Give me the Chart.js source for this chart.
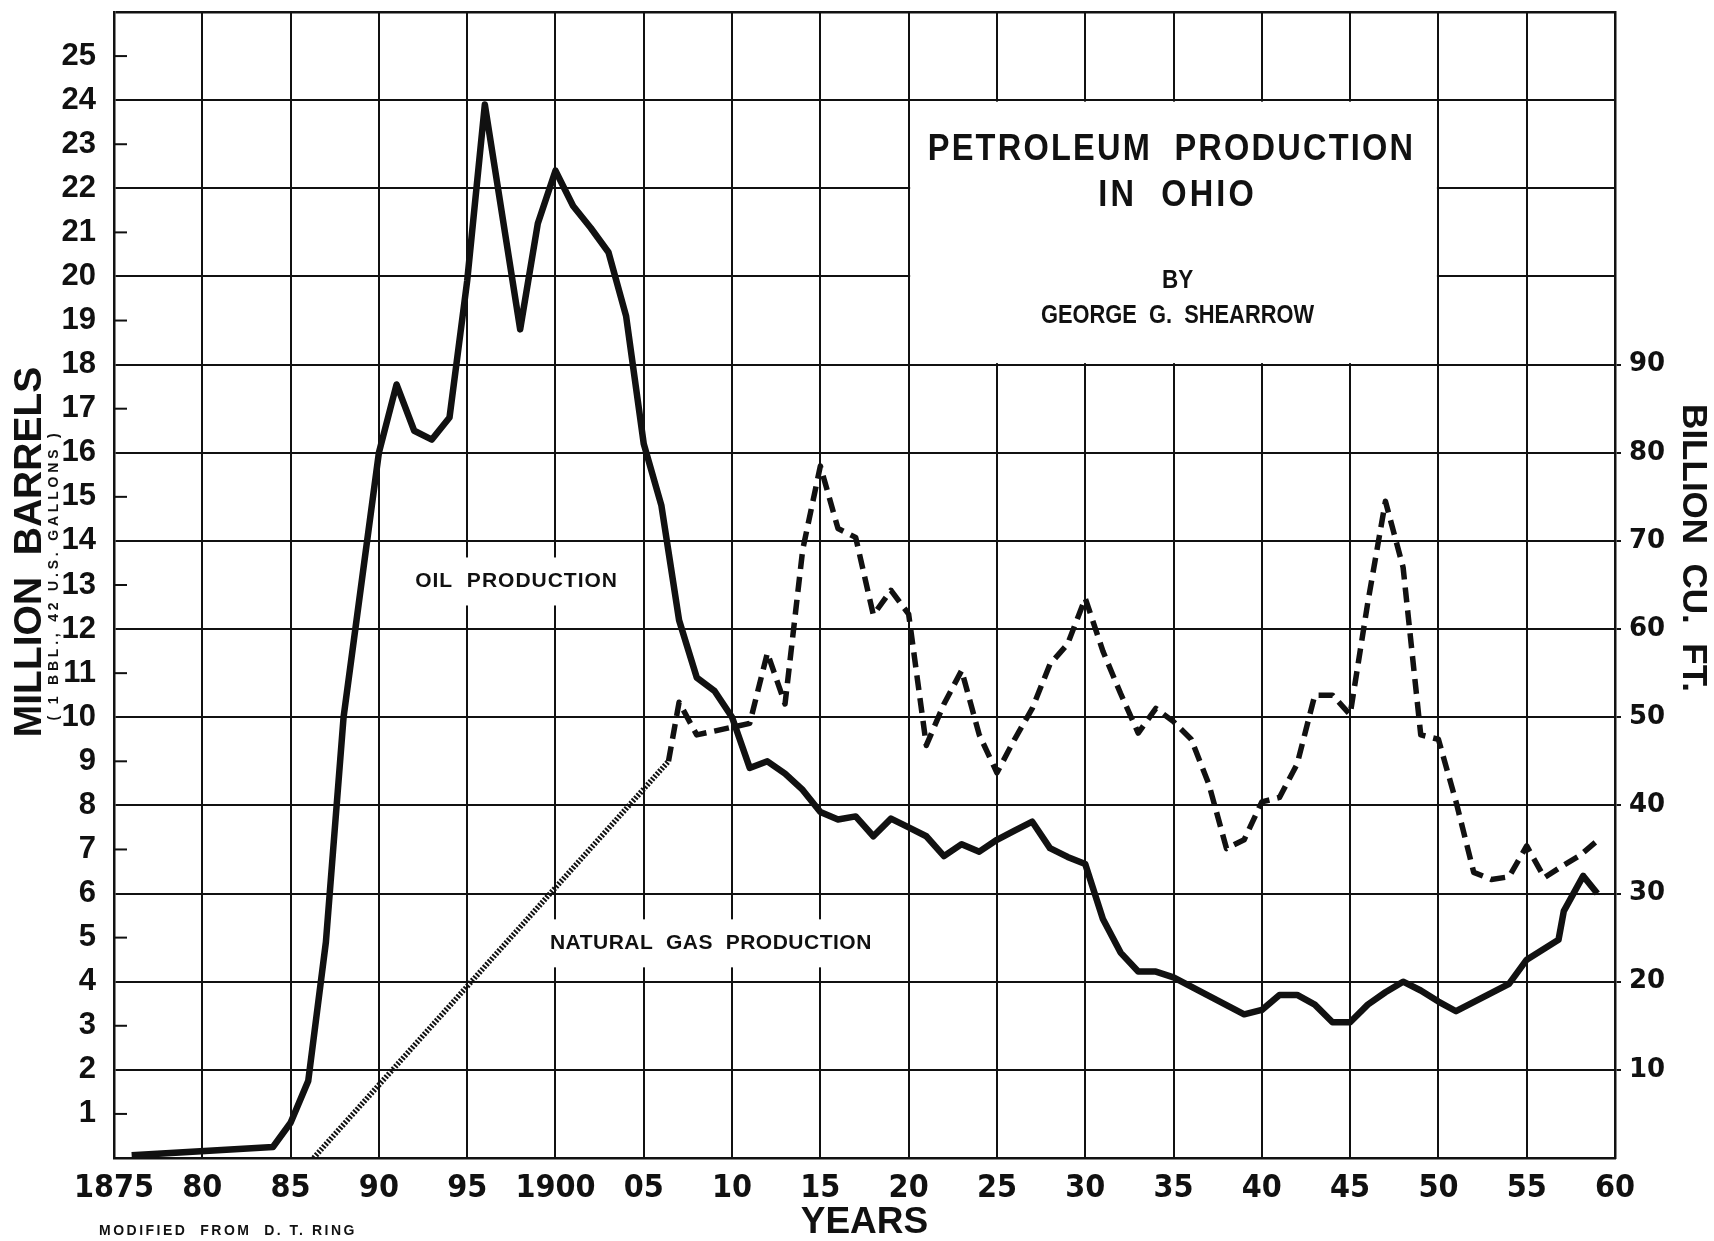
<!DOCTYPE html>
<html lang="en">
<head>
<meta charset="UTF-8">
<title>Petroleum Production in Ohio</title>
<script src="https://cdn.jsdelivr.net/npm/chart.js"></script>
<style>
  html, body { margin: 0; padding: 0; background: #fff; }
  canvas { display: block; }
</style>
</head>
<body>
<canvas id="grafico" width="1714" height="1241"></canvas>
<script>
// oil production, million barrels (left axis)
const oilYears = [1876, 1884, 1885, 1886, 1887, 1888, 1890, 1891, 1892, 1893, 1894, 1895, 1896, 1898, 1899,
  1900, 1901, 1902, 1903, 1904, 1905, 1906, 1907, 1908, 1909, 1910, 1911, 1912, 1913, 1914, 1915, 1916, 1917,
  1918, 1919, 1920, 1921, 1922, 1923, 1924, 1925, 1926, 1927, 1928, 1929, 1930, 1931, 1932, 1933, 1934, 1935,
  1939, 1940, 1941, 1942, 1943, 1944, 1945, 1946, 1947, 1948, 1949, 1950, 1951, 1954, 1955, 1956.8, 1957.1,
  1958.2, 1959]
const oilValues = [0.06, 0.25, 0.8, 1.75, 4.9, 10.0, 16.0, 17.55, 16.5, 16.3, 16.8, 19.9, 23.9, 18.8, 21.2,
  22.4, 21.6, 21.1, 20.55, 19.1, 16.2, 14.8, 12.2, 10.9, 10.6, 10.0, 8.85, 9.0, 8.72, 8.35, 7.85, 7.68, 7.75,
  7.3, 7.7, 7.5, 7.3, 6.85, 7.12, 6.95, 7.22, 7.43, 7.63, 7.03, 6.83, 6.67, 5.42, 4.66, 4.23, 4.23, 4.1,
  3.26, 3.36, 3.7, 3.7, 3.48, 3.08, 3.08, 3.48, 3.76, 4.0, 3.8, 3.55, 3.33, 3.95, 4.5, 4.95, 5.6,
  6.4, 6.0]

// natural gas production, billion cu. ft. (right axis)
const gasYears = [1906.4, 1907, 1908, 1911, 1912, 1913, 1914, 1915, 1916, 1917, 1918, 1919, 1920, 1921, 1922,
  1923, 1924, 1925, 1926, 1927, 1928, 1929, 1930, 1931, 1932, 1933, 1934, 1935, 1936, 1937, 1938, 1939, 1940,
  1941, 1942, 1943, 1944, 1945, 1946, 1947, 1948, 1949, 1950, 1951, 1952, 1953, 1954, 1955, 1956, 1957, 1958, 1959]
const gasValues = [45, 51.7, 48, 49.3, 57.3, 51.5, 69, 78.5, 71.4, 70.4, 61.6, 64.4, 61.7, 46.8, 51.5,
  55.3, 48, 43.7, 47.5, 51, 56, 58.3, 63.5, 57.5, 52.7, 48.2, 51, 49.5, 47.5, 42.4, 35.1, 36.1, 40.4,
  40.9, 44.7, 52.5, 52.5, 50.3, 63, 74.5, 67, 48, 47.5, 40.4, 32.4, 31.6, 31.9, 35.4, 31.8, 33.1, 34.3, 36.0]

// early gas estimate, drawn dotted
const gasEarlyYears = [1886.3, 1906.4]
const gasEarlyValues = [0, 45]

// tick labels
const yearLabels = ['1875', '80', '85', '90', '95', '1900', '05', '10', '15', '20', '25', '30', '35', '40', '45', '50', '55', '60']
const barrelLabels = ['1', '2', '3', '4', '5', '6', '7', '8', '9', '10', '11', '12', '13', '14', '15', '16', '17', '18', '19', '20', '21', '22', '23', '24', '25']
const cuftLabels = ['10', '20', '30', '40', '50', '60', '70', '80', '90']

const ink = '#111'
const clear = 'rgba(0,0,0,0)'

function txt(ctx, s, px, py, font, o = {}) {
  ctx.save()
  ctx.translate(px, py)
  if (o.rot) ctx.rotate(o.rot)
  if (o.sx) ctx.scale(o.sx, 1)
  ctx.font = font
  ctx.letterSpacing = (o.ls || 0) + 'px'
  ctx.textAlign = o.align || 'center'
  ctx.textBaseline = 'middle'
  ctx.fillStyle = ink
  ctx.fillText(s, 0, 0)
  ctx.restore()
}

function maskedLabel(ctx, s, px, py, font, ls) {
  ctx.save()
  ctx.font = font
  ctx.letterSpacing = ls + 'px'
  const w = ctx.measureText(s).width
  ctx.fillStyle = '#fff'
  ctx.fillRect(px - w / 2 - 12, py - 24, w + 24, 48)
  ctx.restore()
  txt(ctx, s, px, py, font, { ls })
}

// no automatic label padding: the plot frame sits where the paper has it
function fixBox(w, h) {
  return s => {
    if (w) s.width = w
    if (h) s.height = h
    s.paddingTop = 0; s.paddingBottom = 0; s.paddingLeft = 0; s.paddingRight = 0
  }
}

const notas = {
  id: 'notas',
  beforeDatasetsDraw(chart) {
    const { ctx, scales: { x, y } } = chart
    ctx.save()
    // short inward ticks at odd values
    ctx.strokeStyle = ink
    ctx.lineWidth = 2
    for (let v = 1; v <= 25; v += 2) {
      const py = y.getPixelForValue(v)
      ctx.beginPath()
      ctx.moveTo(x.left, py)
      ctx.lineTo(x.left + 13, py)
      ctx.stroke()
    }
    // title block, blanked inside the grid cell 1920-1950 x 18-24
    const bx0 = x.getPixelForValue(1920), bx1 = x.getPixelForValue(1950)
    const by0 = y.getPixelForValue(24), by1 = y.getPixelForValue(18)
    ctx.fillStyle = '#fff'
    ctx.fillRect(bx0 + 1.5, by0 + 1.5, bx1 - bx0 - 3, by1 - by0 - 3)
    ctx.restore()

    const cx = (bx0 + bx1) / 2
    txt(ctx, 'PETROLEUM  PRODUCTION', cx - 2, by0 + 50, 'bold 37px "Liberation Sans"', { sx: 0.88, ls: 2.5 })
    txt(ctx, 'IN  OHIO', cx + 4, by0 + 96, 'bold 37px "Liberation Sans"', { sx: 0.88, ls: 3.5 })
    txt(ctx, 'BY', cx + 4, by0 + 181, 'bold 25px "Liberation Sans"', { sx: 0.9 })
    txt(ctx, 'GEORGE  G.  SHEARROW', cx + 4, by0 + 216, 'bold 26px "Liberation Sans"', { sx: 0.84 })

    maskedLabel(ctx, 'OIL  PRODUCTION', x.getPixelForValue(1897.8), y.getPixelForValue(13.08), 'bold 21px "Liberation Sans"', 1)
    maskedLabel(ctx, 'NATURAL  GAS  PRODUCTION', x.getPixelForValue(1908.8), y.getPixelForValue(4.87), 'bold 21px "Liberation Sans"', 0.5)
  },
  afterDraw(chart) {
    const { ctx } = chart
    txt(ctx, 'MILLION  BARRELS', 30, 552, 'bold 39px "Liberation Sans"', { rot: -Math.PI / 2 })
    txt(ctx, '( 1 BBL., 42 U.S. GALLONS )', 54, 575, 'bold 14px "Liberation Sans"', { rot: -Math.PI / 2, ls: 3.8 })
    txt(ctx, 'BILLION  CU.  FT.', 1693, 548, 'bold 35px "Liberation Sans"', { rot: Math.PI / 2 })
    txt(ctx, 'MODIFIED  FROM  D. T. RING', 99, 1231, 'bold 14px "Liberation Sans"', { align: 'left', ls: 2.5 })
  }
}

const pts = (xs, ys) => xs.map((v, i) => ({ x: v, y: ys[i] }))

const ctx = document.getElementById('grafico')
const grafico = new Chart(ctx, {
  type: 'line',
  data: {
    datasets: [
      {
        label: 'Oil production',
        data: pts(oilYears, oilValues),
        yAxisID: 'y',
        borderColor: ink,
        borderWidth: 6.5,
        borderJoinStyle: 'round',
        pointRadius: 0,
        tension: 0
      },
      {
        label: 'Natural gas production',
        data: pts(gasYears, gasValues),
        yAxisID: 'y2',
        borderColor: ink,
        borderWidth: 5.5,
        borderDash: [15, 8],
        borderJoinStyle: 'round',
        pointRadius: 0,
        tension: 0
      },
      {
        label: 'Natural gas (early)',
        data: pts(gasEarlyYears, gasEarlyValues),
        yAxisID: 'y2',
        borderColor: ink,
        borderWidth: 5.5,
        borderDash: [2, 1.6],
        pointRadius: 0,
        tension: 0
      }
    ]
  },
  options: {
    responsive: false,
    animation: false,
    devicePixelRatio: 1,
    layout: { autoPadding: false, padding: { top: 12, left: 0, right: 0, bottom: 0 } },
    plugins: { legend: { display: false }, tooltip: { enabled: false } },
    scales: {
      x: {
        type: 'linear',
        min: 1875,
        max: 1960,
        ticks: {
          stepSize: 5,
          autoSkip: false,
          maxRotation: 0,
          callback: v => yearLabels[Math.round((v - 1875) / 5)],
          font: { family: '"Liberation Sans Narrow", "DejaVu Sans Condensed", "Liberation Sans"', weight: 'bold', size: 32 },
          color: ink,
          padding: 11
        },
        grid: { color: ink, lineWidth: 2, drawTicks: false },
        border: { color: ink, width: 2.5 },
        title: {
          display: true,
          text: 'YEARS',
          font: { family: '"Liberation Sans"', weight: 'bold', size: 37, lineHeight: 1 },
          color: ink,
          padding: 0
        },
        afterFit: fixBox(0, 83)
      },
      y: {
        position: 'left',
        min: 0,
        max: 26,
        ticks: {
          stepSize: 1,
          autoSkip: false,
          callback: v => barrelLabels[v - 1] || '',
          font: { family: '"Liberation Sans"', weight: 'bold', size: 31 },
          color: ink,
          padding: 18
        },
        grid: {
          color: c => (c.tick && c.tick.value % 2 === 0) ? ink : clear,
          lineWidth: c => (c.tick && c.tick.value === 26) ? 2.5 : 2,
          drawTicks: false
        },
        border: { color: ink, width: 2.5 },
        afterFit: fixBox(114, 0)
      },
      y2: {
        position: 'right',
        min: 0,
        max: 130,
        ticks: {
          stepSize: 10,
          autoSkip: false,
          callback: v => cuftLabels[v / 10 - 1] || '',
          font: { family: '"DejaVu Sans"', weight: 'bold', size: 26 },
          color: ink,
          padding: 8
        },
        grid: {
          drawOnChartArea: false,
          drawTicks: true,
          tickLength: 6,
          lineWidth: 2,
          color: c => (c.tick && c.tick.value >= 10 && c.tick.value <= 90) ? ink : clear
        },
        border: { color: ink, width: 2.5 },
        afterFit: fixBox(99, 0)
      }
    }
  },
  plugins: [notas]
})
</script>
</body>
</html>
